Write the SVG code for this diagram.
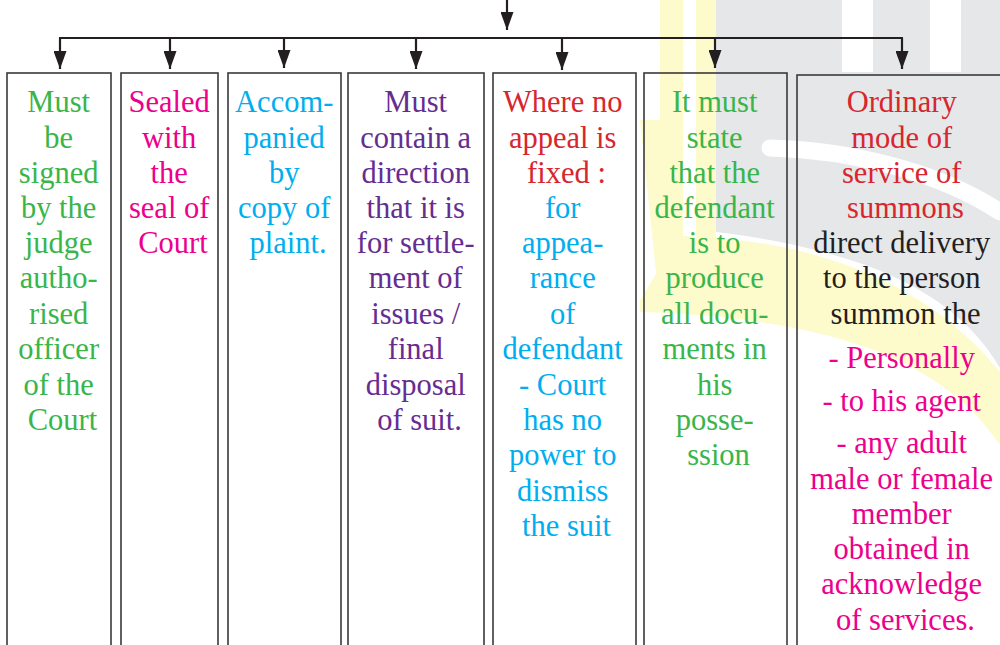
<svg xmlns="http://www.w3.org/2000/svg" width="1000" height="645" viewBox="0 0 1000 645">
  <style>
    .box { fill: none; stroke: #3a3a3a; stroke-width: 1.6; }
    .wire { fill: none; stroke: #231f20; stroke-width: 2.2; }
    text { font-family: "Liberation Serif", "Times New Roman", serif; font-size: 30.5px; text-anchor: middle; }
    .green { fill: #39b54a; }
    .pink { fill: #ec008c; }
    .cyan { fill: #00aeef; }
    .purple { fill: #662d91; }
    .red { fill: #d7262e; }
    .dark { fill: #231f20; }
  </style>
  <defs>
    <marker id="arrow" viewBox="0 0 18 13" refX="18" refY="6.5" markerWidth="18" markerHeight="13" markerUnits="userSpaceOnUse" orient="auto">
      <path d="M0,0 L18,6.5 L0,13 Z" fill="#231f20"/>
    </marker>
  </defs>

  <rect width="1000" height="645" fill="#ffffff"/>

  <!-- faint background emblem -->
  <g id="emblem">
    <path d="M716,0 H1000 V368 C960,300 880,252 716,232 Z" fill="#e6e7e9"/>
    <rect x="842" y="0" width="31" height="72" fill="#ffffff"/>
    <rect x="930" y="0" width="31" height="72" fill="#ffffff"/>
    <path d="M770,148 C850,150 940,172 1000,212" fill="none" stroke="#ffffff" stroke-width="17" stroke-linecap="round"/>
    <rect x="660" y="0" width="23" height="300" fill="#fdfbcc"/>
    <rect x="696" y="0" width="20" height="240" fill="#fdfbcc"/>
    <path d="M640,120 H660 V310 Z" fill="#fdfbcc"/>
    <path d="M683,236 C820,240 930,285 1000,372 V445 C950,370 850,318 640,312 V300 C660,270 670,245 683,236 Z" fill="#fdfbcc"/>
  </g>

  <!-- connectors -->
  <g id="connectors">
    <line class="wire" x1="507" y1="0" x2="507" y2="30" marker-end="url(#arrow)"/>
    <line class="wire" x1="59" y1="38" x2="903" y2="38"/>
    <line class="wire" x1="60" y1="38" x2="60" y2="69" marker-end="url(#arrow)"/>
    <line class="wire" x1="170" y1="38" x2="170" y2="69" marker-end="url(#arrow)"/>
    <line class="wire" x1="284" y1="38" x2="284" y2="68" marker-end="url(#arrow)"/>
    <line class="wire" x1="416" y1="38" x2="416" y2="69" marker-end="url(#arrow)"/>
    <line class="wire" x1="562" y1="38" x2="562" y2="70" marker-end="url(#arrow)"/>
    <line class="wire" x1="715" y1="38" x2="715" y2="68" marker-end="url(#arrow)"/>
    <line class="wire" x1="902" y1="38" x2="902" y2="69" marker-end="url(#arrow)"/>
  </g>

  <g id="node-signed">
    <rect class="box" x="7" y="73" width="104" height="640"/>
    <text class="green" transform="translate(3.5 0)">
      <tspan x="59" y="112">Must</tspan>
      <tspan x="59" y="148">be</tspan>
      <tspan x="59" y="183">signed</tspan>
      <tspan x="59" y="218">by the</tspan>
      <tspan x="59" y="253">judge</tspan>
      <tspan x="59" y="288">autho-</tspan>
      <tspan x="59" y="324">rised</tspan>
      <tspan x="59" y="359">officer</tspan>
      <tspan x="59" y="395">of the</tspan>
      <tspan x="59" y="430">Court</tspan>
    </text>
  </g>

  <g id="node-sealed">
    <rect class="box" x="121" y="73" width="97" height="640"/>
    <text class="pink" transform="translate(3.5 0)">
      <tspan x="169.5" y="112">Sealed</tspan>
      <tspan x="169.5" y="148">with</tspan>
      <tspan x="169.5" y="183">the</tspan>
      <tspan x="169.5" y="218">seal of</tspan>
      <tspan x="169.5" y="253">Court</tspan>
    </text>
  </g>

  <g id="node-plaint">
    <rect class="box" x="228" y="73" width="113" height="640"/>
    <text class="cyan" transform="translate(3.5 0)">
      <tspan x="284.5" y="112">Accom-</tspan>
      <tspan x="284.5" y="148">panied</tspan>
      <tspan x="284.5" y="183">by</tspan>
      <tspan x="284.5" y="218">copy of</tspan>
      <tspan x="284.5" y="253">plaint.</tspan>
    </text>
  </g>

  <g id="node-direction">
    <rect class="box" x="348" y="73" width="136" height="640"/>
    <text class="purple" transform="translate(3.5 0)">
      <tspan x="416" y="112">Must</tspan>
      <tspan x="416" y="148">contain a</tspan>
      <tspan x="416" y="183">direction</tspan>
      <tspan x="416" y="218">that it is</tspan>
      <tspan x="416" y="253">for settle-</tspan>
      <tspan x="416" y="288">ment of</tspan>
      <tspan x="416" y="324">issues /</tspan>
      <tspan x="416" y="359">final</tspan>
      <tspan x="416" y="395">disposal</tspan>
      <tspan x="416" y="430">of suit.</tspan>
    </text>
  </g>

  <g id="node-appearance">
    <rect class="box" x="493" y="73" width="143" height="640"/>
    <text class="red" transform="translate(3.5 0)">
      <tspan x="563" y="112">Where no</tspan>
      <tspan x="563" y="148">appeal is</tspan>
      <tspan x="563" y="183">fixed :</tspan>
    </text>
    <text class="cyan" transform="translate(3.5 0)">
      <tspan x="563" y="218">for</tspan>
      <tspan x="563" y="253">appea-</tspan>
      <tspan x="563" y="288">rance</tspan>
      <tspan x="563" y="324">of</tspan>
      <tspan x="563" y="359">defendant</tspan>
      <tspan x="563" y="395">- Court</tspan>
      <tspan x="563" y="430">has no</tspan>
      <tspan x="563" y="465">power to</tspan>
      <tspan x="563" y="501">dismiss</tspan>
      <tspan x="563" y="536">the suit</tspan>
    </text>
  </g>

  <g id="node-documents">
    <rect class="box" x="644" y="73" width="143" height="640"/>
    <text class="green" transform="translate(3.5 0)">
      <tspan x="715" y="112">It must</tspan>
      <tspan x="715" y="148">state</tspan>
      <tspan x="715" y="183">that the</tspan>
      <tspan x="715" y="218">defendant</tspan>
      <tspan x="715" y="253">is to</tspan>
      <tspan x="715" y="288">produce</tspan>
      <tspan x="715" y="324">all docu-</tspan>
      <tspan x="715" y="359">ments in</tspan>
      <tspan x="715" y="395">his</tspan>
      <tspan x="715" y="430">posse-</tspan>
      <tspan x="715" y="465">ssion</tspan>
    </text>
  </g>

  <g id="node-service">
    <rect class="box" x="797" y="75" width="212" height="640"/>
    <text class="red" transform="translate(3.5 0)">
      <tspan x="902" y="112">Ordinary</tspan>
      <tspan x="902" y="148">mode of</tspan>
      <tspan x="902" y="183">service of</tspan>
      <tspan x="902" y="218">summons</tspan>
    </text>
    <text class="dark" transform="translate(3.5 0)">
      <tspan x="902" y="253">direct delivery</tspan>
      <tspan x="902" y="288">to the person</tspan>
      <tspan x="902" y="324">summon the</tspan>
    </text>
    <text class="pink" transform="translate(3.5 0)">
      <tspan x="902" y="368">- Personally</tspan>
      <tspan x="902" y="411">- to his agent</tspan>
      <tspan x="902" y="453">- any adult</tspan>
      <tspan x="902" y="489">male or female</tspan>
      <tspan x="902" y="524">member</tspan>
      <tspan x="902" y="559">obtained in</tspan>
      <tspan x="902" y="594">acknowledge</tspan>
      <tspan x="902" y="630">of services.</tspan>
    </text>
  </g>
</svg>
